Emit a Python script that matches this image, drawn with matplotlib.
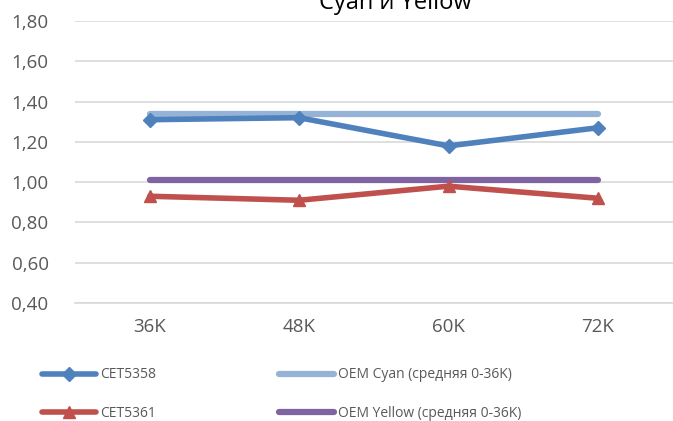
import matplotlib
matplotlib.use("Agg")
import matplotlib.pyplot as plt
from matplotlib.ticker import FuncFormatter

categories = ["36K", "48K", "60K", "72K"]
cet5358 = [1.31, 1.32, 1.18, 1.27]
cet5361 = [0.93, 0.91, 0.98, 0.92]
oem_cyan = [1.34, 1.34, 1.34, 1.34]
oem_yellow = [1.01, 1.01, 1.01, 1.01]
title = "Cyan и Yellow"
y_ticks = [0.40, 0.60, 0.80, 1.00, 1.20, 1.40, 1.60, 1.80]

plt.rcParams['font.family'] = ['Open Sans', 'DejaVu Sans']

fig = plt.figure(figsize=(6.73, 4.21), dpi=100)
ax = fig.add_axes([75/673, 1-303/421, (672.6-75)/673, (303-21)/421])

x = list(range(len(categories)))
ax.plot(x, oem_cyan, color="#95b3d7", lw=4.5, solid_capstyle="round", zorder=3, label="OEM Cyan (средняя 0-36K)")
ax.plot(x, oem_yellow, color="#8064a2", lw=4.5, solid_capstyle="round", zorder=3, label="OEM Yellow (средняя 0-36K)")
ax.plot(x, cet5358, color="#4f81bd", lw=4, marker="D", ms=7, solid_capstyle="round", zorder=4, label="CET5358")
ax.plot(x, cet5361, color="#c0504d", lw=4, marker="^", ms=9, solid_capstyle="round", zorder=4, label="CET5361")

ax.set_xlim(-0.5, len(categories) - 0.5)
ax.set_ylim(0.40, 1.80)
ax.set_yticks(y_ticks)
ax.yaxis.set_major_formatter(FuncFormatter(lambda v, p: f"{v:.2f}".replace(".", ",")))
ax.set_xticks(x)
ax.set_xticklabels(categories)
ax.grid(axis="y", color="#d9d9d9", lw=1.2)
ax.set_axisbelow(True)
for s in ["top", "right", "left"]:
    ax.spines[s].set_visible(False)
ax.spines["bottom"].set_color("#d9d9d9")
ax.spines["bottom"].set_linewidth(1.2)
ax.tick_params(axis="both", length=0, labelsize=13.5, colors="#595959")
ax.tick_params(axis="x", pad=11)
ax.tick_params(axis="y", pad=19)

fig.text(395/673, 1-9/421, title, ha="center", va="baseline", fontsize=17, color="#000000")

handles, labels = ax.get_legend_handles_labels()
order = [2, 3, 0, 1]
leg = fig.legend([handles[i] for i in order], [labels[i] for i in order],
                 ncol=2, loc="upper left", bbox_to_anchor=(29/673, 1-355/421),
                 frameon=False, fontsize=10, labelcolor="#595959",
                 handlelength=3.9, columnspacing=8.9, labelspacing=1.7, handletextpad=0.3)

fig.savefig("out.png", dpi=100)
